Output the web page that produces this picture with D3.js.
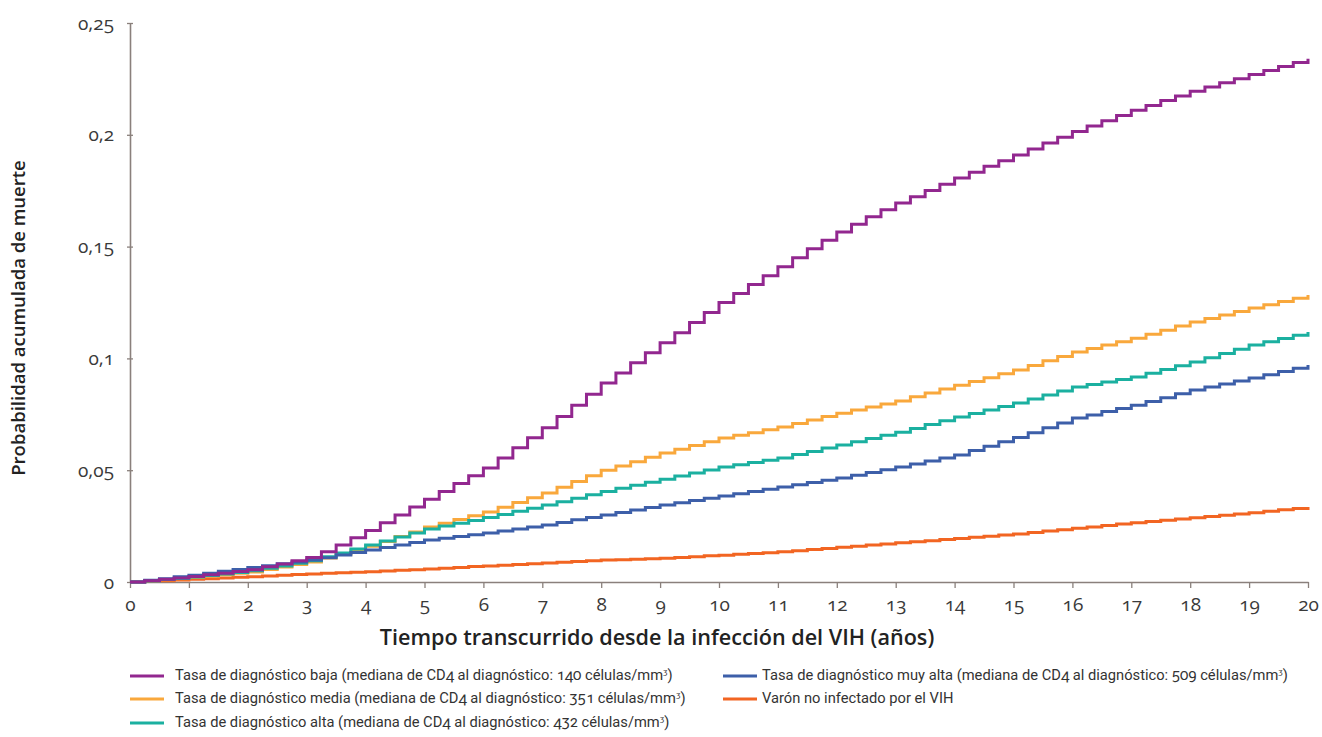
<!DOCTYPE html>
<html>
<head>
<meta charset="utf-8">
<script src="https://cdn.jsdelivr.net/npm/d3@7"></script>
<style>
  body { margin: 0; background: #fff; }
  .tickLabel { font-family: "Open Sans", sans-serif; font-variant-numeric: oldstyle-nums; font-feature-settings: "onum"; fill: #3a3a3a; }
  .legendText { font-family: Roboto, "Noto Sans", sans-serif; font-size: 14.7px; fill: #333; font-feature-settings: "onum"; }
</style>
</head>
<body>
<div id="chart"></div>
<script>
// chart values (quarterly steps, years 0..20)
let years = d3.range(0, 20.001, 0.25);

let baja = [0, 0.0006, 0.0012, 0.0018, 0.0025,
  0.0032, 0.0039, 0.0047, 0.0055, 0.0068, 0.0081, 0.0095, 0.011,
  0.0135, 0.0165, 0.0198, 0.023, 0.0265, 0.030, 0.0335, 0.037,
  0.0405, 0.044, 0.0475, 0.051, 0.0555, 0.060, 0.0645, 0.069,
  0.074, 0.079, 0.084, 0.089, 0.0935, 0.098, 0.1025, 0.107,
  0.1115, 0.116, 0.1205, 0.125, 0.129, 0.133, 0.137, 0.141,
  0.145, 0.149, 0.1528, 0.1565, 0.160, 0.1633, 0.1665, 0.1695,
  0.1723, 0.1751, 0.1779, 0.1807, 0.1833, 0.1859, 0.1884, 0.191,
  0.1936, 0.1963, 0.1989, 0.2015, 0.2039, 0.2063, 0.2086, 0.211,
  0.2131, 0.2153, 0.2174, 0.2195, 0.2214, 0.2233, 0.2251, 0.227,
  0.2288, 0.2305, 0.2323, 0.234];

let media = [0, 0.0005, 0.001, 0.0015, 0.002,
  0.0026, 0.0032, 0.0039, 0.0045, 0.0056, 0.0067, 0.0078, 0.009,
  0.0107, 0.0125, 0.0142, 0.016, 0.0181, 0.0203, 0.0224, 0.0246,
  0.0263, 0.028, 0.0296, 0.0313, 0.0334, 0.0355, 0.0377, 0.0398,
  0.0424, 0.0449, 0.0475, 0.050, 0.0519, 0.0538, 0.0558, 0.0577,
  0.0594, 0.0611, 0.0627, 0.0644, 0.0656, 0.0668, 0.0681, 0.0693,
  0.0709, 0.0724, 0.074, 0.0755, 0.0769, 0.0783, 0.0796, 0.081,
  0.0828, 0.0845, 0.0863, 0.088, 0.0897, 0.0914, 0.0931, 0.0948,
  0.0968, 0.0989, 0.1009, 0.1029, 0.1044, 0.106, 0.1075, 0.109,
  0.1108, 0.1126, 0.1145, 0.1163, 0.1179, 0.1194, 0.121, 0.1225,
  0.124, 0.1254, 0.1269, 0.1283];

let alta = [0, 0.0005, 0.0011, 0.0016, 0.0022,
  0.0029, 0.0036, 0.0043, 0.005, 0.0061, 0.0072, 0.0084, 0.0095,
  0.0113, 0.013, 0.0148, 0.0165, 0.0183, 0.0201, 0.0219, 0.0237,
  0.025, 0.0263, 0.0275, 0.0288, 0.0302, 0.0316, 0.033, 0.0344,
  0.0359, 0.0375, 0.039, 0.0405, 0.0419, 0.0433, 0.0446, 0.046,
  0.0474, 0.0487, 0.0501, 0.0514, 0.0524, 0.0534, 0.0545, 0.0555,
  0.057, 0.0584, 0.0599, 0.0613, 0.0627, 0.0642, 0.0656, 0.067,
  0.0687, 0.0704, 0.0721, 0.0738, 0.0754, 0.0769, 0.0785, 0.080,
  0.0818, 0.0836, 0.0854, 0.0872, 0.0883, 0.0894, 0.0906, 0.0917,
  0.0934, 0.095, 0.0967, 0.0984, 0.1003, 0.1022, 0.1041, 0.106,
  0.1075, 0.1089, 0.1104, 0.1118];

let muyAlta = [0, 0.0008, 0.0015, 0.0023, 0.003,
  0.0039, 0.0048, 0.0056, 0.0065, 0.0073, 0.0082, 0.009, 0.0098,
  0.0109, 0.0121, 0.0132, 0.0143, 0.0154, 0.0166, 0.0177, 0.0188,
  0.0196, 0.0204, 0.0211, 0.0219, 0.0228, 0.0237, 0.0246, 0.0255,
  0.0266, 0.0278, 0.0289, 0.030, 0.0311, 0.0322, 0.0333, 0.0344,
  0.0354, 0.0365, 0.0375, 0.0385, 0.0395, 0.0405, 0.0415, 0.0425,
  0.0435, 0.0445, 0.0455, 0.0465, 0.0477, 0.049, 0.0502, 0.0514,
  0.0528, 0.0541, 0.0555, 0.0568, 0.0588, 0.0607, 0.0627, 0.0646,
  0.0668, 0.069, 0.0711, 0.0733, 0.0747, 0.0762, 0.0776, 0.079,
  0.0807, 0.0824, 0.0842, 0.0859, 0.0872, 0.0886, 0.0899, 0.0912,
  0.0927, 0.0941, 0.0956, 0.097];

let varon = [0, 0.0003, 0.0006, 0.0009, 0.0012,
  0.0015, 0.0018, 0.0021, 0.0024, 0.0027, 0.003, 0.0033, 0.0036,
  0.0039, 0.0041, 0.0044, 0.0046, 0.0049, 0.0052, 0.0055, 0.0058,
  0.0062, 0.0065, 0.0069, 0.0072, 0.0075, 0.0078, 0.0082, 0.0085,
  0.0088, 0.0092, 0.0095, 0.0098, 0.010, 0.0102, 0.0104, 0.0106,
  0.011, 0.0113, 0.0117, 0.012, 0.0124, 0.0128, 0.0131, 0.0135,
  0.014, 0.0145, 0.015, 0.0155, 0.016, 0.0165, 0.017, 0.0175,
  0.018, 0.0185, 0.019, 0.0195, 0.020, 0.0205, 0.021, 0.0215,
  0.0221, 0.0228, 0.0234, 0.024, 0.0246, 0.0253, 0.0259, 0.0265,
  0.0271, 0.0276, 0.0282, 0.0287, 0.0293, 0.0299, 0.0304, 0.031,
  0.0316, 0.0323, 0.0329, 0.0335];

let xTicks = d3.range(0, 21);
let yTicks = [0, 0.05, 0.1, 0.15, 0.2, 0.25];
let yTickLabels = ["0", "0,05", "0,1", "0,15", "0,2", "0,25"];

let seriesNames = [
  "Tasa de diagnóstico baja (mediana de CD4 al diagnóstico: 140 células/mm",
  "Tasa de diagnóstico media (mediana de CD4 al diagnóstico: 351 células/mm",
  "Tasa de diagnóstico alta (mediana de CD4 al diagnóstico: 432 células/mm",
  "Tasa de diagnóstico muy alta (mediana de CD4 al diagnóstico: 509 células/mm",
  "Varón no infectado por el VIH"
];
let seriesColors = ["#92278f", "#f9a83c", "#1bb0a0", "#3d5fa9", "#f26522"];

// Set the dimensions
let width = 1322;
let height = 737;
let margin = { left: 130, right: 14, top: 23, bottom: 155 };

let svg = d3.select("#chart")
  .append("svg")
  .attr("width", width)
  .attr("height", height);

let xScale = d3.scaleLinear()
  .domain([0, 20])
  .range([margin.left, width - margin.right]);

let yScale = d3.scaleLinear()
  .domain([0, 0.25])
  .range([height - margin.bottom, margin.top]);

// axes
let xAxis = d3.axisBottom(xScale)
  .tickValues(xTicks)
  .tickSize(6)
  .tickPadding(10)
  .tickSizeOuter(0);

let yAxis = d3.axisLeft(yScale)
  .tickValues(yTicks)
  .tickFormat(function(d, i) { return yTickLabels[i]; })
  .tickSize(4)
  .tickPadding(12)
  .tickSizeOuter(0);

let gx = svg.append("g")
  .attr("class", "xAxis")
  .attr("transform", "translate(0," + yScale(0) + ")")
  .call(xAxis);

let gy = svg.append("g")
  .attr("class", "yAxis")
  .attr("transform", "translate(" + xScale(0) + ",0)")
  .call(yAxis);

// style the axes like the reference
[gx, gy].forEach(function(g) {
  g.select(".domain").attr("stroke", "#8a807c").attr("stroke-width", 1.6);
  g.selectAll(".tick line").attr("stroke", "#8a807c").attr("stroke-width", 1.3);
  g.selectAll(".tick text")
    .attr("class", "tickLabel")
    .attr("font-size", 19)
    .attr("font-family", null);
});
gy.selectAll(".tick line").attr("x2", 3).attr("x1", -3);
gx.selectAll(".tick text").attr("dy", "0.7em");

// lines, drawn back to front
let line = d3.line()
  .x(function(d) { return xScale(d[0]); })
  .y(function(d) { return yScale(d[1]); })
  .curve(d3.curveStepAfter);

let allSeries = [baja, media, alta, muyAlta, varon];
let drawOrder = [4, 1, 2, 3, 0];

drawOrder.forEach(function(i) {
  let pts = years.map(function(t, j) { return [t, allSeries[i][j]]; });
  svg.append("path")
    .datum(pts)
    .attr("fill", "none")
    .attr("stroke", seriesColors[i])
    .attr("stroke-width", 3)
    .attr("stroke-linejoin", "miter")
    .attr("d", line);
});

// axis titles
svg.append("text")
  .attr("x", 657)
  .attr("y", 645)
  .attr("text-anchor", "middle")
  .attr("font-family", "Open Sans, sans-serif")
  .attr("font-weight", 600)
  .attr("font-size", 21.6)
  .attr("fill", "#222")
  .text("Tiempo transcurrido desde la infección del VIH (años)");

svg.append("text")
  .attr("transform", "translate(25,318) rotate(-90)")
  .attr("text-anchor", "middle")
  .attr("font-family", "Open Sans, sans-serif")
  .attr("font-weight", 600)
  .attr("font-size", 18.5)
  .attr("fill", "#222")
  .text("Probabilidad acumulada de muerte");

// legend
let legendPos = [
  { x: 130, y: 675 }, { x: 130, y: 698 }, { x: 130, y: 722 },
  { x: 723, y: 675 }, { x: 723, y: 698 }
];

seriesNames.forEach(function(name, i) {
  let p = legendPos[i];
  let g = svg.append("g").attr("transform", "translate(" + p.x + "," + p.y + ")");
  g.append("line")
    .attr("x1", 0).attr("x2", 34)
    .attr("y1", 1).attr("y2", 1)
    .attr("stroke", seriesColors[i])
    .attr("stroke-width", 3);
  let t = g.append("text")
    .attr("class", "legendText")
    .attr("x", i < 3 ? 45 : 39)
    .attr("y", 5)
    .text(name);
  if (i < 4) {
    t.append("tspan").attr("dy", -5).attr("font-size", 8).text("3");
    t.append("tspan").attr("dy", 5).text(")");
  }
});
</script>
</body>
</html>
